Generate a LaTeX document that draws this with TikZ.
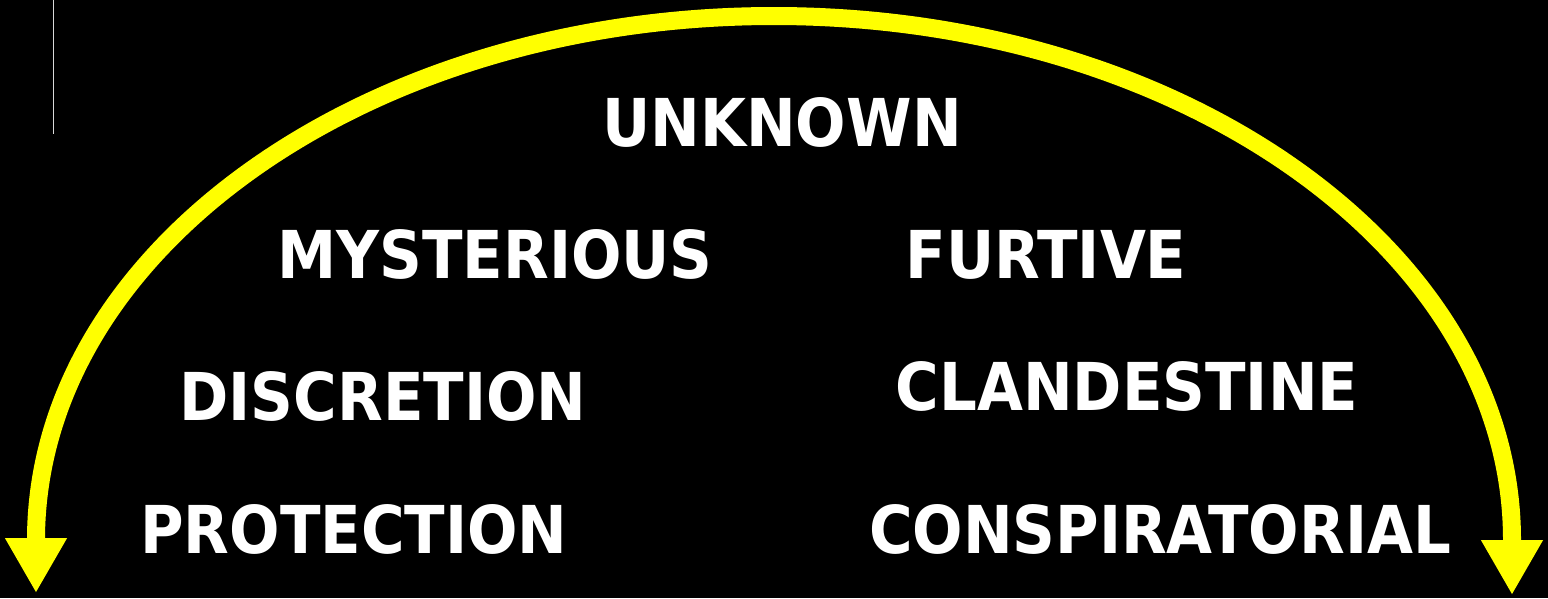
\documentclass[tikz,border=0pt]{standalone}
\usepackage{fontspec}
\newfontfamily\lblfont[FakeStretch=0.9]{DejaVu Sans}
\usetikzlibrary{arrows.meta}
\definecolor{arcyellow}{RGB}{255,255,0}
\tikzset{
  lbl/.style={text=white, anchor=base, inner sep=0pt, font=\lblfont\bfseries\fontsize{66}{70}\selectfont},
  arcline/.style={draw=arcyellow, line width=18pt,
    {Triangle[width=58pt,length=55pt,fill=arcyellow]}-{Triangle[width=58pt,length=55pt,fill=arcyellow]}}
}
\begin{document}
\begin{tikzpicture}[x=1pt,y=-1pt]
\fill[black] (0,0) rectangle (1548,598);
\useasboundingbox (0,0) rectangle (1548,598);
% thin white line top left
\draw[white!85!black, line width=1.2pt] (53.5,0) -- (53.5,134);
% yellow arc with arrows
\draw[arcline] (36,593) -- (36,540) arc[start angle=180, end angle=0, x radius=738, y radius=-524] -- (1512,595);
% labels
\node[lbl] (unknown) at (782,146) {UNKNOWN};
\node[lbl] (myst) at (495,278) {MYSTERIOUS};
\node[lbl] (furtive) at (1046,278) {FURTIVE};
\node[lbl] (discr) at (383,420) {DISCRETION};
\node[lbl] (cland) at (1127,410) {CLANDESTINE};
\node[lbl] (prot) at (354,553) {PROTECTION};
\node[lbl] (consp) at (1160,553) {CONSPIRATORIAL};
\end{tikzpicture}
\end{document}
